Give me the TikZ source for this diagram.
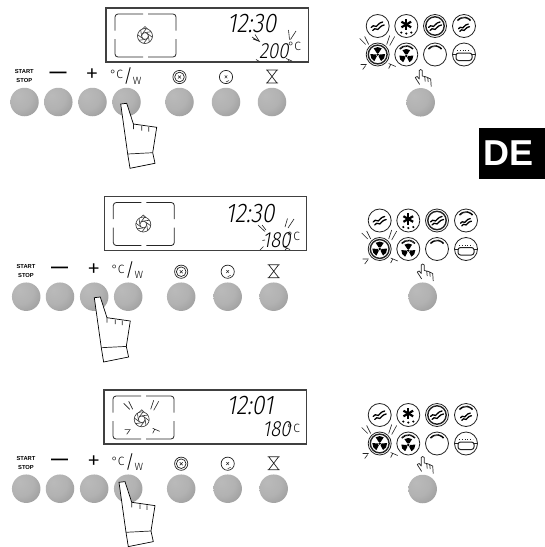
\documentclass[tikz,border=0pt]{standalone}
\usepackage{fontspec}
\setmainfont{Liberation Sans}
\newfontfamily\lightfont{Fira Sans Light}
\newfontfamily\digfont{Fira Sans Light}[FakeSlant=0.18,FakeStretch=0.85]
\definecolor{btnA}{HTML}{BABABA}
\definecolor{btnB}{HTML}{B2B2B2}
\definecolor{btnC}{HTML}{9C9C9C}
\definecolor{btnD}{HTML}{6C6C6C}
\definecolor{ink}{HTML}{222222}
\pgfdeclareradialshading{btnshade}{\pgfpoint{-12bp}{12bp}}{color(0bp)=(btnA); color(22bp)=(btnB); color(40bp)=(btnC); color(62bp)=(btnD); color(100bp)=(btnD)}
\tikzset{
  x=1pt,y=-1pt,
  btn/.style={circle,minimum size=28.5pt,inner sep=0pt,shading=btnshade},
  txt/.style={inner sep=0pt,outer sep=0pt},
  thin line/.style={draw=ink,line width=0.7pt},
  tick line/.style={draw=ink,line width=0.6pt},
  hand line/.style={draw=black,fill=white,line width=0.7pt,line join=miter},
  wave line/.style={draw=black,line width=1.3pt,line cap=round},
  lcd/.style={draw=black!75,line width=1.1pt},
  lcd inner/.style={draw=black!85,line width=0.8pt},
  ring/.style={draw=ink,fill=white,line width=0.8pt},
}
% four-fold blink rays round a centre
\newcommand{\blink}[1]{%
  \begin{scope}[shift={(#1)}]
    \draw[tick line] (-18,-16)--(-12,-10) (-13,-18)--(-9,-10);
    \draw[tick line] (9,-10)--(12,-19) (12,-9)--(17,-18);
    \draw[tick line] (-17,10)--(-11,10) (-15,15)--(-12,11);
    \draw[tick line] (11,9)--(18,12) (11,14)--(13,10);
  \end{scope}}
% pressing hand, given its finger tip
\newcommand{\bighand}[1]{%
  \begin{scope}[shift={(#1)}]
    \draw[hand line] (0,0)--(6,-0.7)--(12.7,20)--(36,23.3)--(32,48.7)--(34.3,59.3)--(9.3,64.3)--(7,50)--cycle;
    \draw[thin line] (7,50)--(32,48.7) (21,22)--(21,26.5) (28,23)--(28,27.5) (12.7,20)--(12.7,25);
  \end{scope}}
% small pointing hand
\newcommand{\smallhand}[1]{%
  \begin{scope}[shift={(#1)}]
    \draw[thin line,line join=round] (-5.5,8)--(-3.5,7)--(-1.5,9.5)--(-1.5,1) .. controls (-1,-0.3) and (1,-0.3) .. (1.5,1)--(1.5,6.5)--(4,7)--(4.5,12) (4,7)--(7,8)--(7.5,12.5) (7,8)--(10,9.5)--(10.5,17) (-5.5,8)--(-1,15);
  \end{scope}}
\newcommand{\waves}{%
  \draw[wave line] (-6.5,1.5) .. controls (-3.5,-3) and (-2,3) .. (0,-1) .. controls (1.5,-3.5) and (3,-3) .. (5,-4);
  \draw[wave line] (-5,4.5) .. controls (-2,0) and (-0.5,6) .. (1.5,2) .. controls (3,-0.5) and (4.5,0) .. (6.5,-1);}
\newcommand{\toparc}{\draw[black,line width=1.6pt,dash pattern=on 0.8pt off 0.4pt] (-140:8.6) arc[start angle=-140,end angle=-40,radius=8.6];}
\newcommand{\trefoil}[1]{%
  \foreach \a in {-90,30,150}{\fill[black] (\a-33:2) -- (\a-33:#1) arc[start angle=\a-33,end angle=\a+33,radius=#1] -- (\a+33:2) -- cycle;}
  \fill[black] (0,0) circle[radius=1.4];}
\newcommand{\ovenicons}[1]{%
  \begin{scope}[shift={(#1)}]
    \begin{scope}[shift={(377.7,26)}]\draw[ring] (0,0) circle[radius=11.5]; \waves\end{scope}
    \begin{scope}[shift={(406.3,26)}]\draw[ring] (0,0) circle[radius=11.5];
      \foreach \a in {-90,-30,30,90,150,210}{\draw[black,line width=2.2pt] (0,-1.5)--++(\a:5.6);}
      \fill[black] (-5,6.5) circle[radius=1.2] (0,7.5) circle[radius=1.2] (5,6.5) circle[radius=1.2];\end{scope}
    \begin{scope}[shift={(435,26)}]\draw[ring] (0,0) circle[radius=11.5];
      \draw[draw=ink,line width=1.4pt] (0,0) circle[radius=9.2]; \waves\end{scope}
    \begin{scope}[shift={(464,26)}]\draw[ring] (0,0) circle[radius=11.5]; \toparc
      \begin{scope}[yshift=-1.5pt,scale=.85]\waves\end{scope}\end{scope}
    \begin{scope}[shift={(377.7,54.5)}]\draw[ring] (0,0) circle[radius=11.5];
      \draw[draw=ink,line width=1.4pt] (0,0) circle[radius=9.4];\trefoil{7.4}\end{scope}
    \blink{377.7,54.5}
    \begin{scope}[shift={(406.3,54.5)}]\draw[ring] (0,0) circle[radius=11.5]; \toparc
      \begin{scope}[yshift=-1.5pt]\trefoil{7}\end{scope}\end{scope}
    \begin{scope}[shift={(435,54.5)}]\draw[ring] (0,0) circle[radius=11.5]; \toparc\end{scope}
    \begin{scope}[shift={(464,54.5)}]\draw[ring] (0,0) circle[radius=11.5];
      \draw[draw=ink,line width=0.8pt,dotted] (-7,-4)--(7,-4);
      \draw[draw=ink,line width=1pt,rounded corners=2.5pt] (-8,-1.5) rectangle (8,6);
      \draw[draw=ink,line width=1pt] (-11,0)--(-8,0) (8,0)--(11,0);\end{scope}
  \end{scope}}
% LCD: bottom-left origin from the top-left corner of the window
\newcommand{\lcd}[2]{%
  \begin{scope}[shift={(#1)}]
    \draw[lcd] (0,0) rectangle (202.5,54);
    \draw[lcd inner,rounded corners=3pt] (37,6)--(9,6)--(9,22.5) (9,31)--(9,49)--(37,49) (42,49)--(70,49)--(70,31) (70,22.5)--(70,6)--(42,6);
    \begin{scope}[shift={(#2)}]
      \draw[draw=black!80,line width=0.6pt] (0,0) circle[radius=7.5] (0,0) circle[radius=3.4];
      \foreach \a in {0,45,...,315}{\draw[draw=black!80,line width=0.6pt] (\a:3.4)--(\a+55:7.5);}
      \draw[draw=black!80,line width=0.6pt] (-2.5,-7.1)--(0,-9.5)--(2.5,-7.1);
    \end{scope}
  \end{scope}}
\newcommand{\controls}[4]{% dx, y of buttons, prefix, degree label
  \begin{scope}[shift={(#1,#2)}]
    \node[txt,align=center,font=\bfseries\fontsize{5.8}{8.6}\selectfont] (#3ss) at (24.3,-26) {START\\STOP};
    \node[txt,font=\bfseries\fontsize{17}{17}\selectfont] (#3mn) at (58,-27) {—};
    \node[txt,font=\lightfont\fontsize{27}{27}\selectfont] (#3pl) at (92,-26.5) {+};
    \node[txt,anchor=base west,font=\lightfont\fontsize{12}{12}\selectfont] (#3cw) at (110,-23.5)
      {#4C\kern0.5pt\raisebox{-3.5pt}{\fontsize{18.5}{18}\selectfont /}\raisebox{-5.5pt}{\fontsize{10.5}{10}\selectfont W}};
    \node[btn] (#3b1) at (24.5,0) {};
    \node[btn] (#3b2) at (58.3,0) {};
    \node[btn] (#3b3) at (92.5,0) {};
    \node[btn] (#3b4) at (126.5,0) {};
    \node[btn] (#3b5) at (179.5,0) {};
    \node[btn] (#3b6) at (226,0) {};
    \node[btn] (#3b7) at (272,0) {};
    \draw[thin line] (179.5,-25) circle[radius=6.6] (179.5,-25) circle[radius=4.8];
    \draw[thin line,line width=0.5pt] (178,-26.5)--(181,-23.5) (181,-26.5)--(178,-23.5);
    \draw[thin line] (226,-25) circle[radius=6.6];
    \draw[thin line,line width=0.5pt] (224.7,-26.5)--(227.3,-23.8) (227.3,-26.5)--(224.7,-23.8) (229,-21.5)--(226,-20);
    \draw[thin line] (266,-32)--(278,-32) (266,-19)--(278,-19) (267,-32)--(277,-19) (277,-32)--(267,-19);
    \coordinate (#3top) at (0,0);
  \end{scope}}
\begin{document}
\begin{tikzpicture}
\useasboundingbox (0,0) rectangle (545,547);
\fill[white] (0,0) rectangle (545,547);
\begin{scope}
\clip (0,0) rectangle (545,547);
%% panel 1
\lcd{106,8}{39,28}
\node[txt,font=\digfont\fontsize{27}{27}\selectfont] (t1) at (251.7,23.5) {12:30};
\node[txt,font=\digfont\fontsize{22}{22}\selectfont] (d1) at (274,51) {200};
\node[txt,font=\lightfont\fontsize{12}{12}\selectfont] (c1) at (294.5,46.7) {°C};
\draw[tick line] (252,37)--(259.5,41.5) (255,34.5)--(259.5,41.5)--(253,39) (288.5,30)--(289.5,39.5) (296,31)--(290.5,39.5)
  (256,59.5)--(259.5,61.5) (286,58.5)--(292,61) (287.5,62)--(289.5,59.5);
\controls{0}{102}{a}{°}
\bighand{120.7,104}
\ovenicons{0,0}
\smallhand{420.7,69.5}
\node[btn] (ka) at (420.7,102.3) {};
%% panel 2
\lcd{104.3,196.5}{39,28}
\node[txt,font=\digfont\fontsize{27}{27}\selectfont] (t2) at (250,213.3) {12:30};
\node[txt,font=\digfont\fontsize{22}{22}\selectfont] (d2) at (276.7,240) {180};
\node[txt,font=\lightfont\fontsize{12}{12}\selectfont] (c2) at (293.5,236) {°C};
\draw[tick line] (258,225)--(265,231.5) (262,225)--(266,230) (285,227)--(287.5,218.5) (288,228)--(294,219)
  (260,250)--(263.5,246.5) (262.5,240.5)--(265,240) (283,246.5)--(290,249.5) (285,250.5)--(287,247.5);
\controls{1.7}{296.7}{b}{°}
\bighand{94.3,297.7}
\ovenicons{2,194.5}
\smallhand{422.7,264}
\node[btn] (kb) at (422.7,296.7) {};
%% panel 3
\lcd{104,390}{37.7,29.3}
\blink{141.7,419.3}
\node[txt,font=\digfont\fontsize{27}{27}\selectfont] (t3) at (250,405.7) {12:01};
\node[txt,font=\digfont\fontsize{22}{22}\selectfont] (d3) at (276.7,429.3) {180};
\node[txt,font=\lightfont\fontsize{12}{12}\selectfont] (c3) at (293.5,428) {°C};
\controls{1.7}{488.7}{c}{°}
\bighand{119,482.3}
\ovenicons{2,389}
\smallhand{422.7,456.5}
\node[btn] (kc) at (422.7,489) {};
\end{scope}
%% DE tab
\fill[black] (479,127.7) rectangle (545,179);
\node[txt,text=white,font=\bfseries\fontsize{36}{36}\selectfont] (de) at (508.5,153.5) {DE};
\end{tikzpicture}
\end{document}
